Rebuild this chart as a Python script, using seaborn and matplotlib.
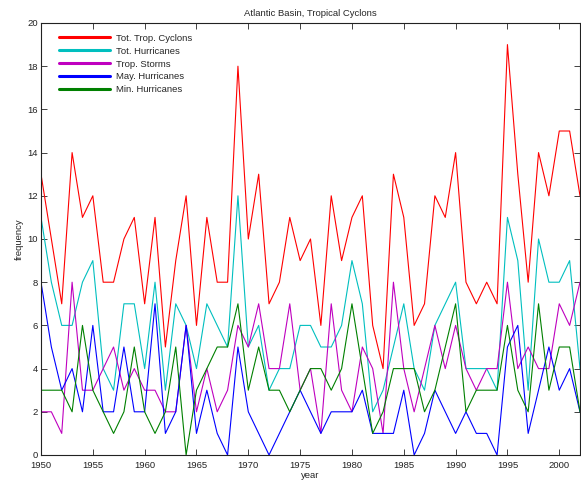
import numpy as np
import pandas as pd
import matplotlib
matplotlib.use("Agg")
import matplotlib.pyplot as plt
import seaborn as sns

years = list(range(1950, 2003))

tot_trop_cyclons = [13, 10, 7, 14, 11, 12, 8, 8, 10, 11, 7, 11, 5, 9, 12, 6, 11, 8,
                    8, 18, 10, 13, 7, 8, 11, 9, 10, 6, 12, 9, 11, 12, 6, 4, 13, 11,
                    6, 7, 12, 11, 14, 8, 7, 8, 7, 19, 13, 8, 14, 12, 15, 15, 12]
tot_hurricanes = [11, 8, 6, 6, 8, 9, 4, 3, 7, 7, 4, 8, 3, 7, 6, 4, 7, 6,
                  5, 12, 5, 6, 3, 4, 4, 6, 6, 5, 5, 6, 9, 7, 2, 3, 5, 7,
                  4, 3, 6, 7, 8, 4, 4, 4, 3, 11, 9, 3, 10, 8, 8, 9, 4]
trop_storms = [2, 2, 1, 8, 3, 3, 4, 5, 3, 4, 3, 3, 2, 2, 6, 2, 4, 2,
               3, 6, 5, 7, 4, 4, 7, 3, 4, 1, 7, 3, 2, 5, 4, 1, 8, 4,
               2, 4, 6, 4, 6, 4, 3, 4, 4, 8, 4, 5, 4, 4, 7, 6, 8]
may_hurricanes = [8, 5, 3, 4, 2, 6, 2, 2, 5, 2, 2, 7, 1, 2, 6, 1, 3, 1,
                  0, 5, 2, 1, 0, 1, 2, 3, 2, 1, 2, 2, 2, 3, 1, 1, 1, 3,
                  0, 1, 3, 2, 1, 2, 1, 1, 0, 5, 6, 1, 3, 5, 3, 4, 2]
min_hurricanes = [3, 3, 3, 2, 6, 3, 2, 1, 2, 5, 2, 1, 2, 5, 0, 3, 4, 5,
                  5, 7, 3, 5, 3, 3, 2, 3, 4, 4, 3, 4, 7, 4, 1, 2, 4, 4,
                  4, 2, 3, 5, 7, 2, 3, 3, 3, 6, 3, 2, 7, 3, 5, 5, 2]

series_names = ["Tot. Trop. Cyclons", "Tot. Hurricanes", "Trop. Storms",
                "May. Hurricanes", "Min. Hurricanes"]
series_values = [tot_trop_cyclons, tot_hurricanes, trop_storms,
                 may_hurricanes, min_hurricanes]
colors = ["#ff0000", "#00bfbf", "#bf00bf", "#0000ff", "#008000"]

df = pd.DataFrame({
    "year": np.tile(years, len(series_names)),
    "frequency": np.concatenate(series_values),
    "series": np.repeat(series_names, len(years)),
})

sns.set_style("ticks")
plt.rcParams["font.family"] = ["Liberation Sans", "DejaVu Sans"]

fig = plt.figure(figsize=(5.81, 4.84), dpi=100)
ax = fig.add_axes([41 / 581, 29 / 484, 539 / 581, 432 / 484])

sns.lineplot(data=df, x="year", y="frequency", hue="series",
             hue_order=series_names, palette=colors, linewidth=0.8,
             ax=ax, legend=False, estimator=None)

ax.set_xlim(1950, 2002)
ax.set_ylim(0, 20)
ax.set_xticks(range(1950, 2001, 5))
ax.set_yticks(range(0, 21, 2))
ax.tick_params(direction="in", length=4, width=0.6, labelsize=6.8,
               top=True, right=True, colors="#222222", pad=2)
ax.tick_params(axis="x", pad=4)
for s in ax.spines.values():
    s.set_linewidth(0.8)
    s.set_color("#222222")
    s.set_visible(True)

ax.set_title("Atlantic Basin, Tropical Cyclons", fontsize=6.8, pad=5)
ax.set_xlabel("year", fontsize=6.8, labelpad=1)
ax.set_ylabel("frequency", fontsize=6.8, labelpad=3)

handles = [plt.Line2D([], [], color=c, linewidth=2.2) for c in colors]
ax.legend(handles, series_names, loc="upper left", frameon=False,
          fontsize=6.8, handlelength=5.4, handletextpad=0.6,
          labelspacing=0.42, borderaxespad=0.4,
          bbox_to_anchor=(0.02, 0.993))

fig.savefig("out.png", dpi=100)
